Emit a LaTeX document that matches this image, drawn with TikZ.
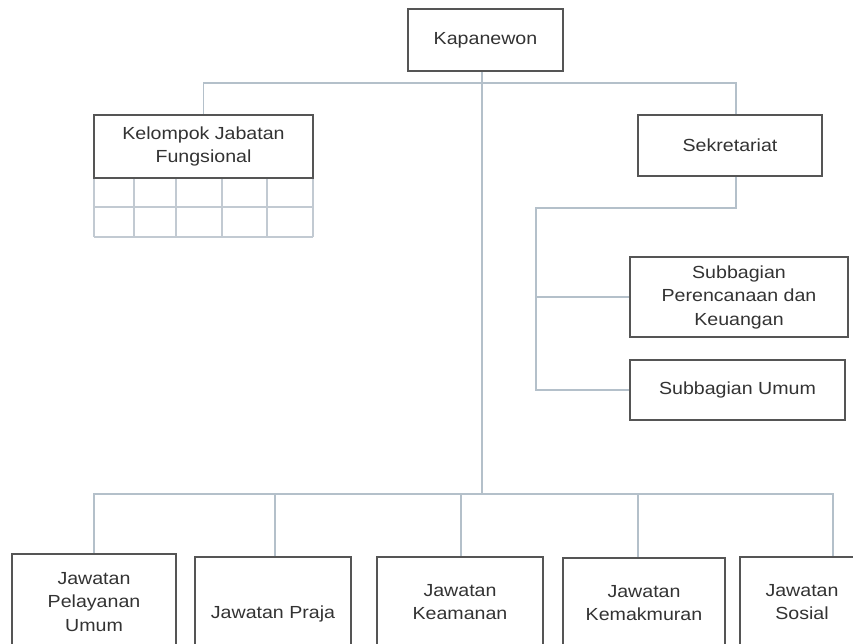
\documentclass[tikz,border=0pt]{standalone}
\usepackage{fontspec}
\setmainfont{Liberation Sans}[FakeStretch=1.12]
\definecolor{conn}{HTML}{B4C0CA}
\definecolor{boxline}{HTML}{555555}
\definecolor{txt}{HTML}{333333}
\definecolor{gridc}{HTML}{C2CAD2}
\tikzset{
  orgbox/.style={draw=boxline, line width=1.8pt, fill=white, rectangle, align=center, text=txt, inner sep=0pt,
    font=\fontsize{17.5}{23.5}\selectfont},
  conline/.style={draw=conn, line width=1.6pt},
  gridline/.style={draw=gridc, line width=1.4pt}
}
\begin{document}
\begin{tikzpicture}[x=1pt,y=-1pt]
\useasboundingbox (0,0) rectangle (853,644);
\clip (0,0) rectangle (853,644);
% coordinates
\coordinate (top) at (482,83);
\coordinate (bot) at (482,494);
\coordinate (c1) at (536,208);
% grid under Kelompok
\foreach \yy in {207,237} \draw[gridline] (94,\yy) -- (313,\yy);
\foreach \xx in {94,134,176,222,267,313} \draw[gridline] (\xx,178) -- (\xx,237);
% boxes
\node[orgbox, minimum width=155pt, minimum height=62pt] (kap) at (485.5,40) {Kapanewon};
\node[orgbox, minimum width=219pt, minimum height=63pt] (kel) at (203.5,146.5) {Kelompok Jabatan\\Fungsional};
\node[orgbox, minimum width=184pt, minimum height=61pt] (sek) at (730,145.5) {Sekretariat};
\node[orgbox, minimum width=218pt, minimum height=80pt] (sp) at (739,297) {Subbagian\\Perencanaan dan\\Keuangan};
\node[orgbox, minimum width=215pt, minimum height=60pt] (su) at (737.5,390) {Subbagian Umum};
\node[orgbox, minimum width=164pt, minimum height=96pt] (j1) at (94,602) {Jawatan\\Pelayanan\\Umum};
\node[orgbox, minimum width=156pt, minimum height=114pt] (j2) at (273,614) {Jawatan Praja};
\node[orgbox, minimum width=166pt, minimum height=90pt] (j3) at (460,602) {Jawatan\\Keamanan};
\node[orgbox, minimum width=162pt, minimum height=90pt] (j4) at (644,603) {Jawatan\\Kemakmuran};
\node[orgbox, minimum width=124pt, minimum height=90pt] (j5) at (802,602) {Jawatan\\Sosial};
% connectors
\draw[conline] (kel.north) |- (top) -| ([xshift=6pt]sek.north);
\draw[conline] (top |- kap.south) -- (bot);
\draw[conline] (j1.north) |- (bot) -| ([xshift=31pt]j5.north);
\draw[conline] ([xshift=2pt]j2.north) -- ([xshift=2pt]j2.north |- bot);
\draw[conline] ([xshift=1pt]j3.north) -- ([xshift=1pt]j3.north |- bot);
\draw[conline] ([xshift=-6pt]j4.north) -- ([xshift=-6pt]j4.north |- bot);
\draw[conline] ([xshift=6pt]sek.south) |- (c1) |- (su.west);
\draw[conline] (c1 |- sp.west) -- (sp.west);
\end{tikzpicture}
\end{document}
